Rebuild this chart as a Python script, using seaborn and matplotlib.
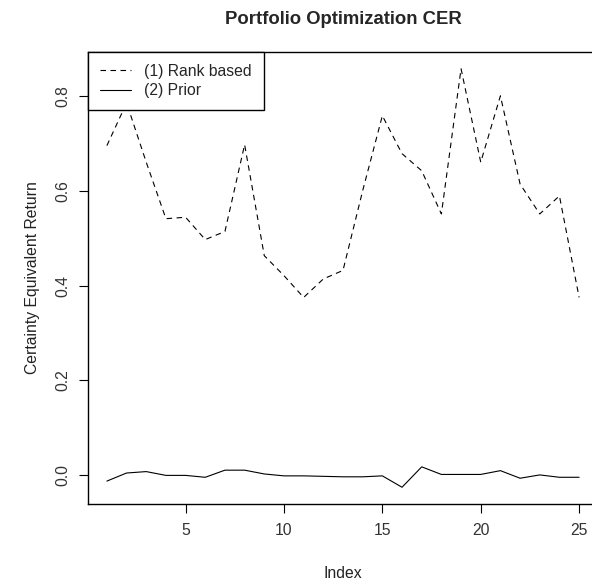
import numpy as np
import pandas as pd
import matplotlib
matplotlib.use("Agg")
import matplotlib.pyplot as plt
import seaborn as sns
from matplotlib.lines import Line2D

index = list(range(1, 26))
rank_based = [0.695, 0.785, 0.66, 0.541, 0.544, 0.497, 0.514, 0.697, 0.463, 0.421,
              0.375, 0.414, 0.432, 0.60, 0.758, 0.678, 0.642, 0.551, 0.857, 0.66,
              0.80, 0.614, 0.551, 0.589, 0.375]
prior = [-0.012, 0.005, 0.008, 0.0, 0.0, -0.004, 0.011, 0.011, 0.003, -0.001,
         -0.001, -0.002, -0.003, -0.003, -0.001, -0.025, 0.018, 0.002, 0.002, 0.002,
         0.010, -0.006, 0.001, -0.004, -0.004]
series_names = ["(1) Rank based", "(2) Prior"]
x_ticks = [5, 10, 15, 20, 25]
y_ticks = [0.0, 0.2, 0.4, 0.6, 0.8]

df = pd.DataFrame({
    "Index": index * 2,
    "CER": rank_based + prior,
    "Series": [series_names[0]] * len(index) + [series_names[1]] * len(index),
})

sns.set_style("ticks")
plt.rcParams["font.family"] = ["Liberation Sans", "DejaVu Sans"]

FS = 11.3
fig = plt.figure(figsize=(5.92, 5.82), dpi=100)
ax = fig.add_axes([88 / 592, 1 - 504 / 582, 510 / 592, 452 / 582])

dash = (5, 4)
sns.lineplot(data=df, x="Index", y="CER", style="Series", hue="Series",
             palette=["black", "black"], dashes={series_names[0]: dash, series_names[1]: ""},
             linewidth=0.8, ax=ax, legend=False)

ax.set_xlim(0.04, 25.96)
ax.set_ylim(-0.0603, 0.8923)
ax.set_xticks(x_ticks)
ax.set_xticklabels([str(t) for t in x_ticks])
ax.set_yticks(y_ticks)
ax.set_yticklabels([f"{t:.1f}" for t in y_ticks], rotation=90, va="center")
ax.tick_params(axis="both", length=6.5, width=0.8, colors="#000000", labelcolor="#333333",
               labelsize=FS, direction="out")
ax.tick_params(axis="x", pad=7)
ax.tick_params(axis="y", pad=6.5)
for s in ax.spines.values():
    s.set_visible(True)
    s.set_color("black")
    s.set_linewidth(1.0)

ax.set_xlabel("Index", fontsize=FS, color="#222222", labelpad=20)
ax.set_ylabel("Certainty Equivalent Return", fontsize=FS, color="#222222", labelpad=11)

handles = [Line2D([], [], color="black", lw=0.8, dashes=dash),
           Line2D([], [], color="black", lw=0.8)]
leg = ax.legend(handles, series_names, loc="upper left", borderaxespad=0,
                fancybox=False, framealpha=1, edgecolor="black", fontsize=FS,
                handlelength=2.0, borderpad=0.75, labelspacing=0.3, handletextpad=0.85)
leg.get_frame().set_linewidth(1.0)

fig.text(343 / 592, 1 - 19 / 582, "Portfolio Optimization CER", ha="center", va="center",
         fontsize=13.3, fontweight="bold")

fig.savefig("out.png", dpi=100)
